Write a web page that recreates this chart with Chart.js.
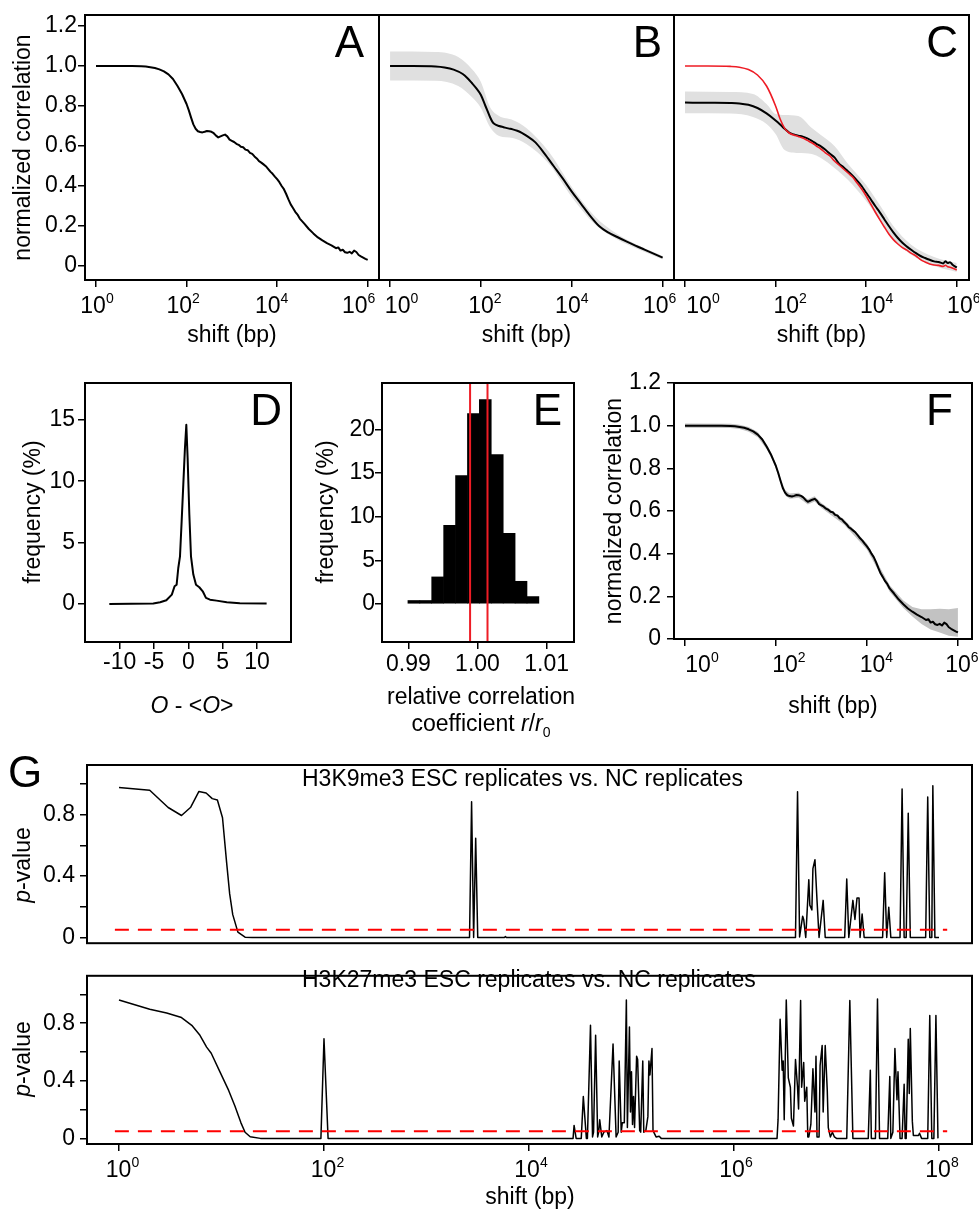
<!DOCTYPE html>
<html>
<head>
<meta charset="utf-8">
<title>Normalized correlation panels</title>
<script src="https://cdn.jsdelivr.net/npm/chart.js@4.4.1/dist/chart.umd.min.js"></script>
<style>
  html, body { margin: 0; padding: 0; background: #fff; }
  body { position: relative; width: 979px; height: 1213px; overflow: hidden; }
  canvas { position: absolute; }
</style>
</head>
<body>
<script>
// ---- data: shifts are stored as log10(shift in bp) ----

// A (and F): normalized correlation of one track
const shiftExpA = [0, 0.2, 0.4, 0.6, 0.8, 1.0, 1.1, 1.2, 1.3, 1.4, 1.5, 1.6, 1.7, 1.8, 1.9, 2.0,
  2.05, 2.1, 2.15, 2.2, 2.25, 2.3, 2.35, 2.4, 2.45, 2.5, 2.55, 2.6, 2.65, 2.7, 2.75, 2.8, 2.85, 2.9, 2.95, 3.0,
  3.05, 3.1, 3.15, 3.2, 3.25, 3.3, 3.35, 3.4, 3.45, 3.5, 3.55, 3.6, 3.65, 3.7, 3.75, 3.8, 3.85, 3.9, 3.95, 4.0,
  4.05, 4.1, 4.15, 4.2, 4.25, 4.3, 4.35, 4.4, 4.45, 4.5, 4.6, 4.7, 4.8, 4.9, 5.0, 5.1, 5.2, 5.3,
  5.35, 5.4, 5.45, 5.5, 5.55, 5.6, 5.65, 5.7, 5.75, 5.8, 5.85, 5.9, 5.95, 6.0];
const corrA = [1.0, 1.0, 1.0, 1.0, 1.0, 0.999, 0.997, 0.994, 0.99, 0.983, 0.973, 0.958, 0.935, 0.9, 0.86, 0.81,
  0.778, 0.742, 0.708, 0.686, 0.674, 0.67, 0.668, 0.671, 0.675, 0.674, 0.671, 0.664, 0.652, 0.643, 0.648, 0.653, 0.657, 0.648, 0.632, 0.626,
  0.62, 0.611, 0.606, 0.596, 0.594, 0.582, 0.579, 0.566, 0.561, 0.548, 0.538, 0.524, 0.517, 0.508, 0.499, 0.486, 0.472, 0.461, 0.447, 0.434,
  0.419, 0.4, 0.384, 0.36, 0.333, 0.308, 0.29, 0.271, 0.257, 0.237, 0.212, 0.185, 0.163, 0.143, 0.128, 0.114, 0.103, 0.089,
  0.093, 0.077, 0.081, 0.069, 0.066, 0.071, 0.063, 0.077, 0.07, 0.055, 0.048, 0.042, 0.036, 0.031];

// F: spread around curve A
const bandExpF = [0, 1.0, 1.2, 1.4, 1.6, 1.8, 1.9, 2.0, 2.1, 2.2, 2.3, 2.5, 2.7, 2.85, 3.0,
  3.5, 4.0, 4.5, 4.8, 5.0, 5.2, 5.4, 5.6, 5.8, 6.0];
const bandLowF = [0.99, 0.989, 0.984, 0.972, 0.946, 0.888, 0.848, 0.798, 0.73, 0.674, 0.658, 0.662, 0.631, 0.645, 0.614,
  0.536, 0.42, 0.222, 0.145, 0.105, 0.07, 0.045, 0.03, 0.015, 0.01];
const bandHighF = [1.01, 1.009, 1.004, 0.994, 0.97, 0.912, 0.872, 0.822, 0.754, 0.698, 0.682, 0.686, 0.655, 0.669, 0.638,
  0.56, 0.448, 0.252, 0.18, 0.15, 0.14, 0.14, 0.142, 0.14, 0.145];

// B: averaged correlation with spread
const shiftExpB = [0, 0.5, 1.0, 1.2, 1.4, 1.6, 1.7, 1.8, 1.9, 2.0, 2.1, 2.2, 2.25, 2.3, 2.4, 2.5, 2.6, 2.7,
  2.8, 2.9, 3.0, 3.2, 3.4, 3.6, 3.8, 4.0, 4.2, 4.4, 4.6, 4.8, 5.0, 5.2, 5.4, 5.6, 5.8, 6.0];
const corrB = [1.0, 1.0, 0.998, 0.993, 0.982, 0.96, 0.94, 0.915, 0.888, 0.855, 0.8, 0.745, 0.722, 0.71, 0.7, 0.694, 0.688, 0.683,
  0.676, 0.666, 0.652, 0.618, 0.562, 0.5, 0.438, 0.372, 0.312, 0.252, 0.2, 0.168, 0.145, 0.123, 0.102, 0.082, 0.062, 0.042];
const bandExpB = [0, 1.0, 1.5, 1.8, 2.0, 2.2, 2.4, 2.7, 3.0, 3.5, 4.0, 4.5, 5.0, 5.5, 6.0];
const bandLowB = [0.928, 0.926, 0.9, 0.845, 0.79, 0.695, 0.65, 0.64, 0.61, 0.51, 0.345, 0.21, 0.132, 0.08, 0.032];
const bandHighB = [1.072, 1.07, 1.045, 0.985, 0.92, 0.795, 0.75, 0.73, 0.69, 0.57, 0.395, 0.25, 0.16, 0.1, 0.05];

// C: averaged correlation (black, with spread) and reference curve (red)
const shiftExpC = [0, 0.5, 1.0, 1.2, 1.4, 1.6, 1.8,
  2.0, 2.1, 2.2, 2.3, 2.4, 2.5, 2.6, 2.7, 2.8, 2.9,
  3.0, 3.1, 3.2, 3.3, 3.4, 3.5, 3.6, 3.7, 3.8, 3.9,
  4.0, 4.1, 4.2, 4.3, 4.4, 4.5, 4.6, 4.7, 4.8, 4.9,
  5.0, 5.1, 5.2, 5.3, 5.4, 5.5, 5.6, 5.7, 5.75, 5.8, 5.85, 5.9, 6.0];
const corrC = [0.817, 0.816, 0.815, 0.813, 0.806, 0.79, 0.763,
  0.728, 0.708, 0.686, 0.667, 0.658, 0.652, 0.647, 0.638, 0.626, 0.611,
  0.598, 0.581, 0.561, 0.543, 0.512, 0.494, 0.473, 0.452, 0.427, 0.4,
  0.366, 0.334, 0.3, 0.268, 0.234, 0.2, 0.168, 0.14, 0.116, 0.097,
  0.08, 0.064, 0.05, 0.04, 0.031, 0.023, 0.02, 0.013, 0.024, 0.015, 0.019, 0.008, -0.008];
const corrCRef = [1.0, 1.0, 0.998, 0.994, 0.982, 0.955, 0.9,
  0.8, 0.735, 0.688, 0.665, 0.655, 0.648, 0.64, 0.628, 0.616, 0.6,
  0.585, 0.566, 0.55, 0.525, 0.505, 0.485, 0.465, 0.445, 0.415, 0.385,
  0.35, 0.31, 0.27, 0.232, 0.195, 0.16, 0.132, 0.11, 0.092, 0.079,
  0.063, 0.05, 0.032, 0.02, 0.01, 0.005, 0.003, -0.002, 0.004, -0.004, -0.006, -0.01, -0.02];
const bandExpC = [0, 1.0, 1.5, 1.8, 2.0, 2.2, 2.5, 2.8, 3.0, 3.3, 3.6, 4.0, 4.3, 4.6, 5.0, 5.5, 6.0];
const bandLowC = [0.764, 0.762, 0.745, 0.71, 0.66, 0.58, 0.565, 0.56, 0.54, 0.49, 0.43, 0.325, 0.228, 0.135, 0.055, 0.0, -0.03];
const bandHighC = [0.872, 0.87, 0.86, 0.81, 0.76, 0.755, 0.75, 0.69, 0.655, 0.6, 0.51, 0.405, 0.305, 0.2, 0.105, 0.045, 0.015];

// D: distribution of O - <O>
const dDeviation = [-11.5, -5.1, -4.1, -3.2, -2.4, -2.0, -1.7, -1.46, -1.21, -0.97, -0.73, -0.49, -0.29,
  -0.1, 0.15, 0.39, 0.73, 1.12, 1.6, 2.1, 2.57, 3.16, 4.1, 5.6, 7.5, 11.4];
const dFrequency = [0.0, 0.03, 0.14, 0.3, 0.76, 1.44, 1.57, 2.93, 3.88, 6.73, 9.72, 12.7, 14.6,
  11.9, 7.28, 3.88, 2.39, 1.57, 1.36, 1.03, 0.49, 0.35, 0.27, 0.14, 0.05, 0.03];

// E: histogram of relative correlation coefficient r/r0
const eBinCenters = [0.9908, 0.99252, 0.99424, 0.99597, 0.99769, 0.99941, 1.00113, 1.00286, 1.00458, 1.0063, 1.00802];
const eFrequency = [0.4, 0.4, 3.1, 9.0, 14.7, 21.8, 23.4, 17.1, 8.1, 2.6, 0.85];
const eMarkers = [0.99893, 1.00145];

// G: p-values along the shift
const gShiftExp1 = [0, 0.30, 0.48, 0.61, 0.70, 0.78, 0.85, 0.91, 0.96, 1.01,
  1.05, 1.08, 1.11, 1.16, 1.23, 1.3, 3.42, 3.44, 3.46, 3.48,
  3.50, 3.76, 3.77, 3.78, 6.60, 6.62, 6.64, 6.67, 6.68, 6.70,
  6.73, 6.74, 6.76, 6.77, 6.79, 6.81, 6.83, 6.87, 6.89, 7.08,
  7.10, 7.12, 7.16, 7.18, 7.20, 7.22, 7.23, 7.25, 7.27, 7.45,
  7.47, 7.49, 7.51, 7.53, 7.62, 7.64, 7.66, 7.68, 7.70, 7.72,
  7.87, 7.89, 7.91, 7.93, 7.94, 7.96, 8.0];
const gPValue1 = [0.977, 0.96, 0.847, 0.795, 0.849, 0.952, 0.942, 0.905, 0.896, 0.78,
  0.49, 0.284, 0.149, 0.035, 0.002, 0, 0, 0.884, 0, 0.646,
  0, 0, 0.006, 0, 0, 0.95, 0.004, 0.139, 0.118, 0,
  0.377, 0.211, 0.18, 0.449, 0.507, 0.242, 0, 0.242, 0, 0,
  0.381, 0, 0.242, 0.118, 0.257, 0.257, 0, 0.153, 0, 0,
  0.422, 0, 0.197, 0, 0, 0.967, 0, 0, 0.81, 0,
  0, 0.915, 0, 0, 0.988, 0, 0];
const gShiftExp2 = [0, 0.30, 0.465, 0.61, 0.71, 0.79, 0.855, 0.90, 0.985, 1.07,
  1.13, 1.19, 1.23, 1.28, 1.38, 1.97, 2.0, 2.04, 4.43, 4.44,
  4.46, 4.51, 4.53, 4.56, 4.57, 4.60, 4.62, 4.63, 4.65, 4.67,
  4.68, 4.69, 4.71, 4.73, 4.76, 4.78, 4.82, 4.85, 4.87, 4.88,
  4.90, 4.91, 4.93, 4.95, 4.96, 4.98, 4.99, 5.00, 5.01, 5.02,
  5.03, 5.05, 5.06, 5.08, 5.09, 5.11, 5.12, 5.14, 5.16, 5.17,
  5.18, 5.20, 5.21, 5.24, 5.27, 5.29, 6.42, 6.43, 6.45, 6.47,
  6.48, 6.49, 6.51, 6.53, 6.55, 6.56, 6.58, 6.60, 6.62, 6.63,
  6.65, 6.66, 6.68, 6.69, 6.71, 6.72, 6.73, 6.75, 6.77, 6.79,
  6.80, 6.81, 6.83, 6.84, 6.86, 6.87, 6.89, 6.91, 6.92, 6.94,
  6.96, 6.98, 7.0, 7.10, 7.13, 7.16, 7.31, 7.33, 7.34, 7.38,
  7.40, 7.42, 7.50, 7.52, 7.53, 7.55, 7.57, 7.58, 7.59, 7.60,
  7.62, 7.64, 7.66, 7.67, 7.68, 7.70, 7.71, 7.72, 7.74, 7.75,
  7.80, 7.81, 7.83, 7.89, 7.91, 7.93, 7.95, 7.97, 7.99];
const gPValue2 = [0.961, 0.897, 0.871, 0.839, 0.785, 0.716, 0.634, 0.591, 0.462, 0.333,
  0.226, 0.108, 0.043, 0.011, 0, 0, 0.692, 0, 0, 0.09,
  0, 0, 0.29, 0, 0, 0.785, 0.01, 0.043, 0.716, 0.01,
  0.043, 0.129, 0.01, 0.043, 0.054, 0.01, 0.656, 0.01, 0.043, 0.538,
  0.043, 0.108, 0.108, 0.961, 0.075, 0.774, 0.183, 0.462, 0.097, 0.29,
  0.075, 0.57, 0.548, 0.054, 0.043, 0.538, 0.043, 0.054, 0.151, 0.538,
  0.441, 0.624, 0.054, 0.01, 0.015, 0, 0, 0.13, 0.828, 0.473,
  0.538, 0.13, 0.961, 0.42, 0.355, 0.14, 0.086, 0.548, 0.355, 0.204,
  0.957, 0.355, 0.527, 0.258, 0.355, 0.01, 0.01, 0.097, 0.484, 0.183,
  0.57, 0.01, 0.01, 0.505, 0.645, 0.183, 0.645, 0.333, 0.075, 0.01,
  0.043, 0.01, 0, 0, 0.957, 0, 0, 0.473, 0, 0,
  0.968, 0, 0, 0.43, 0, 0.043, 0.624, 0.441, 0.269, 0.462,
  0, 0, 0.376, 0, 0, 0.688, 0.312, 0.763, 0.118, 0.02,
  0.02, 0.036, 0, 0, 0.854, 0, 0, 0.854, 0];
const gThreshold = 0.05;
const gThresholdSpan = [-0.04, 8.08];

// tick values
const shiftTickExps = [0, 2, 4, 6];
const shiftTickExpsG = [0, 2, 4, 6, 8];
const corrTicks = [0, 0.2, 0.4, 0.6, 0.8, 1.0, 1.2];
const dTicksX = [-10, -5, 0, 5, 10];
const dTicksY = [0, 5, 10, 15];
const eTicksX = [0.99, 1.0, 1.01];
const eTicksY = [0, 5, 10, 15, 20];
const pTicks = [0, 0.2, 0.4, 0.6, 0.8, 1.0];
const pLabelled = [0, 0.4, 0.8];

// ---- drawing ----
const FONT = '"Liberation Sans", Arial, Helvetica, sans-serif';
Chart.defaults.font.family = FONT;
Chart.defaults.font.size = 23;
Chart.defaults.color = '#000';

function drawRich(ctx, segs, x, y, size, align, rot) {
    ctx.save();
    ctx.translate(x, y);
    if (rot) ctx.rotate(rot);
    ctx.textAlign = 'left';
    ctx.textBaseline = 'alphabetic';
    const parts = segs.map((s) => {
        const px = (s.sub || s.sup) ? Math.round(size * 0.62) : size;
        const font = `${s.italic ? 'italic ' : ''}${px}px ${FONT}`;
        ctx.font = font;
        const dy = s.sub ? size * 0.28 : (s.sup ? -size * 0.42 : 0);
        return { t: s.t, font, dy, w: ctx.measureText(s.t).width };
    });
    const total = parts.reduce((sum, p) => sum + p.w, 0);
    let cx = align === 'center' ? -total / 2 : (align === 'right' ? -total : 0);
    parts.forEach((p) => {
        ctx.font = p.font;
        ctx.fillText(p.t, cx, p.dy);
        cx += p.w;
    });
    ctx.restore();
}

// frame, panel letter, rich titles and 10^n tick labels
const decor = {
    id: 'decor',
    afterDraw(chart, args, opts) {
        const { ctx, chartArea: a } = chart;
        const [ox, oy] = opts.origin;
        ctx.save();
        ctx.fillStyle = '#000';
        if (opts.powers) {
            const xs = chart.scales.x;
            opts.powers.forEach((e, i) => {
                const nudge = opts.powerNudge ? opts.powerNudge[i] : 0;
                drawRich(ctx, [{ t: '10' }, { t: String(e), sup: true }],
                    xs.getPixelForValue(10 ** e) + nudge, a.bottom + 33, 23, 'center');
            });
        }
        (opts.texts || []).forEach((t) => {
            drawRich(ctx, t.segs, t.x - ox, t.y - oy, t.size || 23, t.align || 'center', t.rot || 0);
        });
        ctx.lineWidth = 2;
        ctx.strokeStyle = '#000';
        ctx.strokeRect(a.left, a.top, a.right - a.left, a.bottom - a.top);
        ctx.restore();
    },
};

const tickGrid = (show) => ({
    display: show, drawOnChartArea: false, drawTicks: true, tickLength: 7,
    color: '#000', lineWidth: 1.5, tickWidth: 1.5,
});

function shiftAxis(minExp, maxExp, exps, show) {
    return {
        type: 'logarithmic',
        min: 10 ** minExp,
        max: 10 ** maxExp,
        afterBuildTicks: (s) => { s.ticks = exps.map((e) => ({ value: 10 ** e })); },
        ticks: { display: false },
        grid: tickGrid(show),
        border: { display: false },
    };
}

function valueAxis(min, max, vals, fmt, pad, show = true) {
    return {
        type: 'linear',
        min,
        max,
        afterBuildTicks: (s) => { s.ticks = vals.map((v) => ({ value: v })); },
        ticks: { display: show, autoSkip: false, maxRotation: 0, padding: pad, color: '#000', font: { size: 23 }, callback: (v) => fmt(v) },
        grid: tickGrid(show),
        border: { display: false },
    };
}

const fmtCorr = (v) => (v === 0 ? '0' : v.toFixed(1));
const fmtInt = (v) => String(v);
const fmtCoef = (v) => v.toFixed(2);
const fmtP = (v) => (v === 0 ? '0' : (pLabelled.includes(v) ? v.toFixed(1) : ''));

const toPoints = (exps, ys) => exps.map((e, i) => ({ x: 10 ** e, y: ys[i] }));

function curve(points, color, width, extra) {
    return Object.assign({
        type: 'line', data: points, borderColor: color, borderWidth: width,
        pointRadius: 0, tension: 0, fill: false, order: 0, borderJoinStyle: 'round',
    }, extra || {});
}

function band(lowPts, highPts, color, extra) {
    const base = {
        type: 'line', borderColor: 'rgba(0,0,0,0)', borderWidth: 1, pointRadius: 0, order: 5,
    };
    return [
        Object.assign({}, base, { data: lowPts, fill: false }, extra || {}),
        Object.assign({}, base, { data: highPts, fill: '-1', backgroundColor: color }, extra || {}),
    ];
}

function panel(frame, pad, type, datasets, scales, deco) {
    const c = document.createElement('canvas');
    const w = frame[2] - frame[0] + pad[0] + pad[2];
    const h = frame[3] - frame[1] + pad[1] + pad[3];
    const left = frame[0] - pad[0];
    const top = frame[1] - pad[1];
    c.width = w;
    c.height = h;
    c.style.left = left + 'px';
    c.style.top = top + 'px';
    c.style.width = w + 'px';
    c.style.height = h + 'px';
    document.body.appendChild(c);
    scales.x.afterFit = (s) => { s.height = pad[3]; };
    scales.y.afterFit = (s) => { s.width = pad[0]; };
    deco.origin = [left, top];
    return new Chart(c, {
        type,
        data: { datasets },
        options: {
            responsive: false,
            animation: false,
            events: [],
            layout: { padding: { left: 0, top: pad[1], right: pad[2], bottom: 0 } },
            scales,
            plugins: { legend: { display: false }, tooltip: { enabled: false }, decor: deco },
        },
        plugins: [decor],
    });
}

const shiftTitle = [{ t: 'shift (bp)' }];
const corrTitle = [{ t: 'normalized correlation' }];
const freqTitle = [{ t: 'frequency (%)' }];
const pTitle = [{ t: 'p', italic: true }, { t: '-value' }];
const UP = -Math.PI / 2;
const smooth = { cubicInterpolationMode: 'monotone' };

// A
panel([85, 15, 379, 280], [85, 15, 10, 70], 'line',
    [curve(toPoints(shiftExpA, corrA), '#000', 2)],
    { x: shiftAxis(-0.243, 6.25, shiftTickExps, true), y: valueAxis(-0.07, 1.255, corrTicks, fmtCorr, 1) },
    { powers: shiftTickExps, powerNudge: [1, -3.5, -5.5, -9], texts: [
        { segs: [{ t: 'A' }], x: 364, y: 57, size: 44, align: 'right' },
        { segs: shiftTitle, x: 232, y: 342 },
        { segs: corrTitle, x: 30, y: 147.5, rot: UP },
    ] });

// B
panel([379, 15, 674, 280], [10, 15, 10, 70], 'line',
    [curve(toPoints(shiftExpB, corrB), '#000', 2, smooth),
        ...band(toPoints(bandExpB, bandLowB), toPoints(bandExpB, bandHighB), '#e0e0e0', smooth)],
    { x: shiftAxis(-0.243, 6.25, shiftTickExps, true), y: valueAxis(-0.07, 1.255, corrTicks, fmtCorr, 1, false) },
    { powers: shiftTickExps, powerNudge: [11.5, 4, 0, -3], texts: [
        { segs: [{ t: 'B' }], x: 662, y: 57, size: 44, align: 'right' },
        { segs: shiftTitle, x: 526.5, y: 342 },
    ] });

// C
panel([674, 15, 969, 280], [10, 15, 10, 70], 'line',
    [curve(toPoints(shiftExpC, corrCRef), '#ee1c25', 1.6, smooth),
        curve(toPoints(shiftExpC, corrC), '#000', 2, Object.assign({ order: 1 }, smooth)),
        ...band(toPoints(bandExpC, bandLowC), toPoints(bandExpC, bandHighC), '#e0e0e0', smooth)],
    { x: shiftAxis(-0.243, 6.27, shiftTickExps, true), y: valueAxis(-0.07, 1.255, corrTicks, fmtCorr, 1, false) },
    { powers: shiftTickExps, powerNudge: [18, 14.5, 10.5, 7], texts: [
        { segs: [{ t: 'C' }], x: 958, y: 57, size: 44, align: 'right' },
        { segs: shiftTitle, x: 821.5, y: 342 },
    ] });

// D
panel([85, 383, 291, 642], [85, 20, 10, 85], 'line',
    [curve(dDeviation.map((x, i) => ({ x, y: dFrequency[i] })), '#000', 2)],
    { x: valueAxis(-15.04, 14.95, dTicksX, fmtInt, 0), y: valueAxis(-3.1, 18.0, dTicksY, fmtInt, 3) },
    { texts: [
        { segs: [{ t: 'D' }], x: 282, y: 425, size: 44, align: 'right' },
        { segs: [{ t: 'O', italic: true }, { t: ' - <' }, { t: 'O', italic: true }, { t: '>' }], x: 192, y: 713 },
        { segs: freqTitle, x: 40, y: 512, rot: UP },
    ] });

// E
const eX = valueAxis(0.98619, 1.01396, eTicksX, fmtCoef, 2);
eX.offset = false;
eX.grid.offset = false;
panel([382, 383, 574, 642], [80, 20, 10, 100], 'bar',
    [...eMarkers.map((m) => curve([{ x: m, y: -10 }, { x: m, y: 30 }], '#ee1c25', 2)),
        {
            type: 'bar', data: eBinCenters.map((x, i) => ({ x, y: eFrequency[i] })),
            backgroundColor: '#000', borderWidth: 0, barPercentage: 1, categoryPercentage: 1, order: 5,
        }],
    { x: eX, y: valueAxis(-4.35, 25.3, eTicksY, fmtInt, 0) },
    { texts: [
        { segs: [{ t: 'E' }], x: 562, y: 425, size: 44, align: 'right' },
        { segs: [{ t: 'relative correlation' }], x: 481, y: 704 },
        { segs: [{ t: 'coefficient ' }, { t: 'r', italic: true }, { t: '/' }, { t: 'r', italic: true }, { t: '0', sub: true }], x: 481, y: 731 },
        { segs: freqTitle, x: 333, y: 512, rot: UP },
    ] });

// F
panel([674, 383, 972, 639], [90, 20, 7, 90], 'line',
    [curve(toPoints(shiftExpA, corrA), '#000', 2),
        ...band(toPoints(bandExpF, bandLowF), toPoints(bandExpF, bandHighF), '#c2c2c2')],
    { x: shiftAxis(-0.242, 6.31, shiftTickExps, true), y: valueAxis(0, 1.2, corrTicks, fmtCorr, 6) },
    { powers: shiftTickExps, powerNudge: [17, 13, 9.5, 4], texts: [
        { segs: [{ t: 'F' }], x: 953, y: 425, size: 44, align: 'right' },
        { segs: shiftTitle, x: 833, y: 713 },
        { segs: corrTitle, x: 621, y: 511, rot: UP },
    ] });

// G
const thresholdLine = () => curve(toPoints(gThresholdSpan, [gThreshold, gThreshold]), '#ff0000', 2, { borderDash: [14, 9] });

panel([87, 765, 972, 952], [87, 30, 7, 10], 'line',
    [thresholdLine(), curve(toPoints(gShiftExp1, gPValue1), '#000', 1.5, { order: 1 })],
    { x: shiftAxis(-0.312, 8.322, shiftTickExpsG, false), y: valueAxis(-0.037, 1.124, pTicks, fmtP, 5) },
    { texts: [
        { segs: [{ t: 'G' }], x: 8, y: 787, size: 44, align: 'left' },
        { segs: [{ t: 'H3K9me3 ESC replicates vs. NC replicates' }], x: 302, y: 786, align: 'left' },
        { segs: pTitle, x: 30, y: 865, rot: UP },
    ] });

panel([87, 963, 972, 1144], [87, 6, 7, 69], 'line',
    [thresholdLine(), curve(toPoints(gShiftExp2, gPValue2), '#000', 1.5, { order: 1 })],
    { x: shiftAxis(-0.312, 8.322, shiftTickExpsG, true), y: valueAxis(-0.039, 1.129, pTicks, fmtP, 5) },
    { powers: shiftTickExpsG, powerNudge: [3.5, 3.5, 2, 2, 3], texts: [
        { segs: [{ t: 'H3K27me3 ESC replicates vs. NC replicates' }], x: 302, y: 987, align: 'left' },
        { segs: pTitle, x: 30, y: 1059, rot: UP },
        { segs: shiftTitle, x: 530, y: 1204 },
    ] });
</script>
</body>
</html>
